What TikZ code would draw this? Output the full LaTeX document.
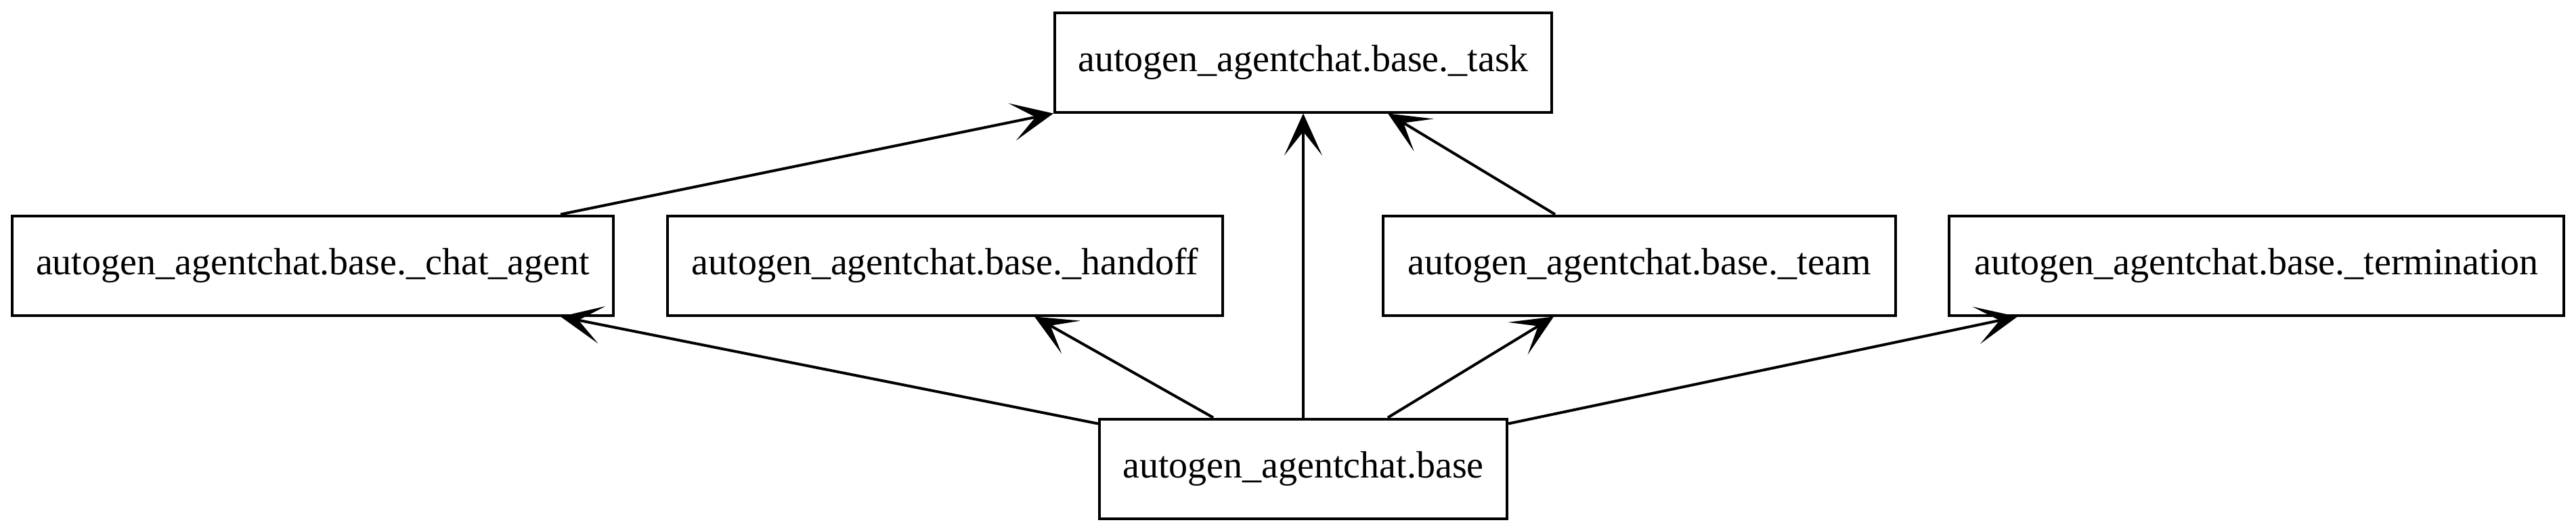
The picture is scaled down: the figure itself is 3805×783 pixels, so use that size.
\documentclass[tikz,border=0pt]{standalone}
\usepackage{fontspec}
\setmainfont{Liberation Serif}
\usetikzlibrary{arrows.meta,calc}
\tikzset{
  modbox/.style={draw=black, line width=1pt, fill=white, rectangle, inner sep=0pt,
    minimum height=36.75pt, font=\fontsize{14pt}{16pt}\selectfont},
  dep/.style={draw=black, line width=1pt,
    -{Stealth[length=15.5pt, width=14pt, inset=8.75pt]}}
}
\begin{document}
\begin{tikzpicture}[x=0.25pt, y=-0.25pt]
\useasboundingbox (0,0) rectangle (3805,783);
\node[modbox, minimum width=183.5pt] (task) at (1925,92) {autogen\_agentchat.base.\_task};
\node[modbox, minimum width=222pt] (chat) at (462,392) {autogen\_agentchat.base.\_chat\_agent};
\node[modbox, minimum width=205pt] (handoff) at (1396,392) {autogen\_agentchat.base.\_handoff};
\node[modbox, minimum width=189.25pt] (team) at (2421.5,392) {autogen\_agentchat.base.\_team};
\node[modbox, minimum width=227pt] (term) at (3333,392) {autogen\_agentchat.base.\_termination};
\node[modbox, minimum width=150.5pt] (base) at (1925,692) {autogen\_agentchat.base};

\draw[dep] ($(chat.north)+(366,0)$) -- (task.south west);
\draw[dep] (base.north) -- (base.north |- task.south);
\draw[dep] ($(team.north)+(-124.5,0)$) -- ($(task.south)+(125,0)$);
\draw[dep] ($(base.north west)+(0,9)$) -- ($(chat.south)+(366,0)$);
\draw[dep] ($(base.north)+(-133,0)$) -- ($(handoff.south)+(132,0)$);
\draw[dep] ($(base.north)+(125,0)$) -- ($(team.south)+(-126.5,0)$);
\draw[dep] ($(base.north east)+(0,9)$) -- ($(term.south)+(-353,0)$);
\end{tikzpicture}
\end{document}
